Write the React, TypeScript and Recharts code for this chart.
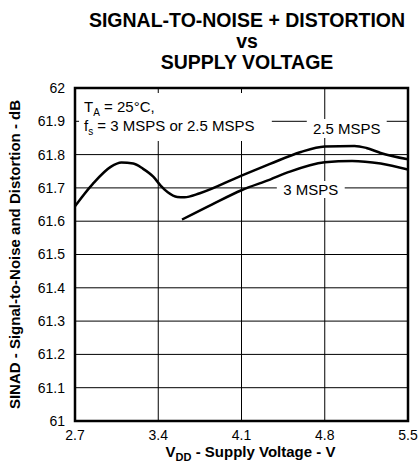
import React from 'react';
import { LineChart, Line, XAxis, YAxis, CartesianGrid, ReferenceArea } from 'recharts';

const FONT = "'Liberation Sans', Arial, Helvetica, sans-serif";

// Supply voltage (V) and SINAD (dB) for fs = 2.5 MSPS
const voltage25 = [2.7, 2.85, 3.0, 3.09, 3.19, 3.27, 3.36, 3.42, 3.48, 3.56, 3.62, 3.75, 4.1, 4.34, 4.6, 4.8, 5.05, 5.15, 5.27, 5.5];
const sinad25 = [61.645, 61.712, 61.763, 61.776, 61.773, 61.758, 61.733, 61.707, 61.687, 61.673, 61.672, 61.684, 61.737, 61.772, 61.808, 61.824, 61.826, 61.82, 61.805, 61.786];

// Supply voltage (V) and SINAD (dB) for fs = 3 MSPS
const voltage3 = [3.6, 3.85, 4.1, 4.34, 4.5, 4.8, 5.03, 5.27, 5.5];
const sinad3 = [61.605, 61.65, 61.693, 61.725, 61.748, 61.777, 61.781, 61.773, 61.755];

const xTicks = [2.7, 3.4, 4.1, 4.8, 5.5];
const yTicks = [61, 61.1, 61.2, 61.3, 61.4, 61.5, 61.6, 61.7, 61.8, 61.9, 62];

const titleLines = ['SIGNAL-TO-NOISE + DISTORTION', 'vs', 'SUPPLY VOLTAGE'];

const series25 = voltage25.map((v, i) => ({ v, sinad: sinad25[i] }));
const series3 = voltage3.map((v, i) => ({ v, sinad: sinad3[i] }));

const AnnotationLabel = (props: any) => {
  const vb = props.viewBox;
  if (!vb) return null;
  const x = vb.x + 5;
  return (
    <g>
      <text x={x} y={vb.y + 19} fontSize={15} fontFamily={FONT} fill="#000">
        <tspan>T</tspan>
        <tspan fontSize={10} dy={4}>A</tspan>
        <tspan dy={-4}> = 25°C,</tspan>
      </text>
      <text x={x} y={vb.y + 38.5} fontSize={15} fontFamily={FONT} fill="#000">
        <tspan>f</tspan>
        <tspan fontSize={10} dy={4}>s</tspan>
        <tspan dy={-4}> = 3 MSPS or 2.5 MSPS</tspan>
      </text>
    </g>
  );
};

const makeBoxLabel = (text: string) => (props: any) => {
  const vb = props.viewBox;
  if (!vb) return null;
  return (
    <text
      x={vb.x + vb.width / 2}
      y={vb.y + vb.height / 2 + 5.5}
      textAnchor="middle"
      fontSize={15}
      fontFamily={FONT}
      fill="#000"
    >
      {text}
    </text>
  );
};

const XLabel = (props: any) => {
  const vb = props.viewBox;
  if (!vb) return null;
  return (
    <text
      x={vb.x + vb.width / 2 + 9}
      y={vb.y + 36}
      textAnchor="middle"
      fontSize={15}
      fontWeight="bold"
      fontFamily={FONT}
      fill="#000"
    >
      <tspan>V</tspan>
      <tspan fontSize={11} dy={4}>DD</tspan>
      <tspan dy={-4}> - Supply Voltage - V</tspan>
    </text>
  );
};

export default function App() {
  return (
    <div style={{ position: 'absolute', left: 0, top: 0, width: 419, height: 464, background: '#fff', fontFamily: FONT }}>
      <div style={{ position: 'absolute', top: 10, left: 247, transform: 'translateX(-50%)', textAlign: 'center', whiteSpace: 'nowrap', fontWeight: 'bold', fontSize: 19.5, lineHeight: '21px', color: '#000' }}>
        {titleLines.map((t) => (
          <div key={t}>{t}</div>
        ))}
      </div>
      <LineChart width={419} height={464} margin={{ top: 88, right: 11, bottom: 0, left: 0 }} style={{ position: 'absolute', left: 0, top: 0 }}>
        <CartesianGrid stroke="#000" strokeWidth={1} />
        <XAxis
          dataKey="v"
          type="number"
          domain={[2.7, 5.5]}
          ticks={xTicks}
          allowDataOverflow
          height={43}
          tickLine={false}
          axisLine={false}
          tickSize={6}
          tickMargin={3}
          tickFormatter={(v: number) => v.toFixed(1)}
          tick={{ fontSize: 14, fill: '#000', fontFamily: FONT }}
          label={<XLabel />}
        />
        <YAxis
          type="number"
          domain={[61, 62]}
          ticks={yTicks}
          allowDataOverflow
          width={75}
          tickLine={false}
          axisLine={false}
          tickSize={6}
          tickMargin={4}
          tickFormatter={(v: number) => (Number.isInteger(v) ? String(v) : v.toFixed(1))}
          tick={{ fontSize: 14, fill: '#000', fontFamily: FONT }}
          label={{
            value: 'SINAD - Signal-to-Noise and Distortion - dB',
            angle: -90,
            position: 'insideLeft',
            offset: 15,
            style: { textAnchor: 'middle', fontSize: 15, fontWeight: 'bold', fill: '#000', fontFamily: FONT },
          }}
        />
        <ReferenceArea x1={2.734} x2={4.355} y1={61.841} y2={61.985} fill="#fff" fillOpacity={1} stroke="none" label={AnnotationLabel} />
        <ReferenceArea x1={4.649} x2={5.321} y1={61.85} y2={61.907} fill="#fff" fillOpacity={1} stroke="none" label={makeBoxLabel('2.5 MSPS')} />
        <ReferenceArea x1={4.397} x2={4.968} y1={61.67} y2={61.721} fill="#fff" fillOpacity={1} stroke="none" label={makeBoxLabel('3 MSPS')} />
        <Line data={series25} dataKey="sinad" type="monotone" stroke="#000" strokeWidth={2.5} dot={false} isAnimationActive={false} />
        <Line data={series3} dataKey="sinad" type="monotone" stroke="#000" strokeWidth={2.5} dot={false} isAnimationActive={false} />
        <ReferenceArea x1={2.7} x2={5.5} y1={61} y2={62} fill="none" stroke="#000" strokeWidth={2.5} />
      </LineChart>
    </div>
  );
}
